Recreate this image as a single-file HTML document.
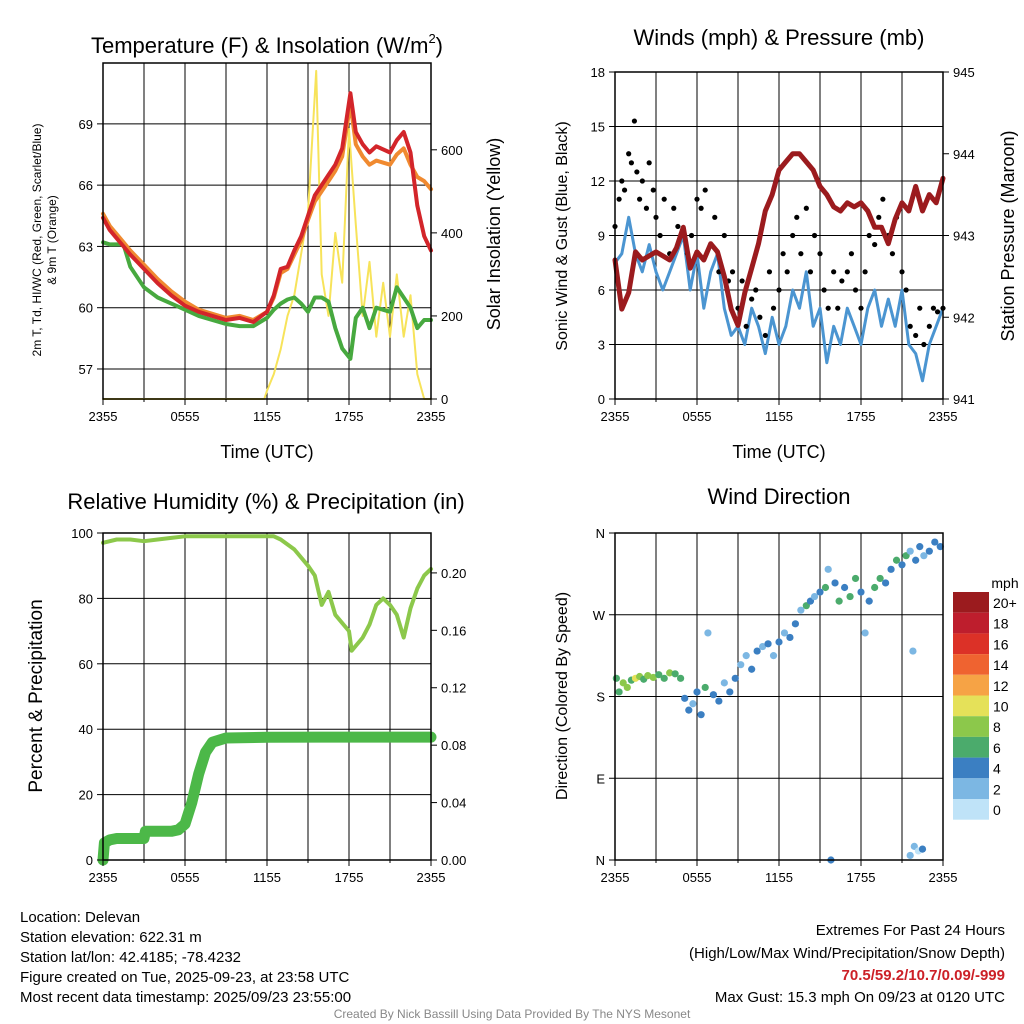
<!DOCTYPE html>
<html><head><meta charset="utf-8"><style>
html,body{margin:0;padding:0;background:#fff}
svg{display:block;font-family:"Liberation Sans",sans-serif}
</style></head><body>
<svg id="s" width="1024" height="1024" viewBox="0 0 1024 1024" xmlns="http://www.w3.org/2000/svg"></svg>
<script>
// ---- data ----
const xTickLabels=["2355","0555","1155","1755","2355"];
const tT=[0,0.5,1,1.5,2,3,4,5,6,7,8,9,10,11,12,12.5,13,13.5,14,14.5,15,15.5,16,16.5,17,17.5,18.1,18.5,19,19.5,20,21,21.5,22,22.5,23,23.5,24];
const temp2m=[64.4,63.8,63.4,63.0,62.6,61.9,61.2,60.6,60.1,59.8,59.6,59.4,59.5,59.3,59.8,60.6,61.9,62.0,62.8,63.5,64.5,65.5,66.0,66.5,67.0,67.8,70.5,68.6,68.0,67.6,67.9,67.6,68.2,68.6,67.6,65.0,63.5,62.8];
const temp9m=[64.6,64.0,63.6,63.2,62.8,62.1,61.4,60.8,60.3,59.9,59.7,59.5,59.6,59.4,59.8,60.5,61.7,61.9,62.6,63.3,64.3,65.2,65.7,66.2,66.7,67.4,70.0,68.0,67.4,67.0,67.2,67.0,67.5,67.8,67.0,66.4,66.2,65.8];
const dewpt=[63.2,63.1,63.1,63.1,62.0,61.0,60.5,60.2,59.9,59.6,59.4,59.2,59.1,59.1,59.5,59.9,60.2,60.4,60.5,60.2,59.8,60.5,60.5,60.3,59.0,58.0,57.5,59.5,60.0,59.0,60.0,59.8,61.0,60.5,60.0,59.0,59.4,59.4];
const tSol=[0,11.8,12,12.5,13,13.5,14,14.5,15,15.6,16,16.5,17,17.5,18,18.5,19,19.5,20,20.5,21,21.5,22,22.5,23,23.5,24];
const solar=[0,0,20,60,120,200,250,350,450,790,300,200,400,280,650,420,200,330,150,280,150,300,150,250,60,0,0];
const tW=[0,0.5,1,1.5,2,2.5,3,3.5,4,4.5,5,5.5,6,6.5,7,7.5,8,8.5,9,9.5,10,10.5,11,11.5,12,12.5,13,13.5,14,14.5,15,15.5,16,16.5,17,17.5,18,18.5,19,19.5,20,20.5,21,21.5,22,22.5,23,23.5,24];
const wind=[7.5,8,10,8,7,8.5,7,6,7,8,9,6,8,5,7,8,5,3.5,4,3,5,4,2.5,4.5,3,4,6,5,7,4,5,2,4,3,5,4,3,5,6,4,5.5,4,6,3,2.5,1,3,4,5];
const pres=[942.7,942.1,942.3,942.8,942.7,942.75,942.8,942.75,942.7,942.85,943.1,942.6,942.8,942.7,942.9,942.8,942.5,942.1,941.9,942.3,942.6,942.9,943.3,943.5,943.8,943.9,944.0,944.0,943.9,943.8,943.6,943.5,943.35,943.3,943.4,943.35,943.4,943.3,943.1,943.1,942.9,943.2,943.4,943.3,943.6,943.3,943.5,943.4,943.7];
const tG=[0,0.3,0.5,0.7,1,1.2,1.42,1.6,1.8,2,2.3,2.5,2.8,3,3.3,3.6,4,4.3,4.6,5,5.3,5.6,6,6.3,6.6,7,7.3,7.6,8,8.3,8.6,9,9.3,9.6,10,10.3,10.6,11,11.3,11.6,12,12.3,12.6,13,13.3,13.6,14,14.3,14.6,15,15.3,15.6,16,16.3,16.6,17,17.3,17.6,18,18.3,18.6,19,19.3,19.6,20,20.3,20.6,21,21.3,21.6,22,22.3,22.6,23,23.3,23.6,24];
const gust=[9.5,11,12,11.5,13.5,13,15.3,12.5,11,12,10.5,13,11.5,10,9,11,8,10.5,9.5,9,8,9,11,10.5,11.5,8.5,10,7,9,6.5,7,5,6.5,4,5.5,6,4.5,3.5,7,5,6,8,7,9,10,8,10.5,7,9,8,6,5,7,5,6.5,7,8,6,5,7,9,8.5,10,11,9,8,10,7,6,4,3.5,5,3,4,5,4.8,5];
const tRH=[0,1,2,3,4,5,6,8,10,12,12.5,13,14,15,15.5,16,16.5,17,18,18.2,19,19.5,20,20.5,21,21.5,22,22.5,23,23.5,24];
const rh=[97,98,98,97.5,98,98.5,99,99,99,99,99,98,95,90,87,78,82,75,70,64,68,72,78,80,78,75,68,77,83,87,89];
const tP=[0,0.1,0.5,1,2,3,3.1,4,5,5.5,6,6.5,7,7.5,8,9,12,16,20,24];
const precip=[0,0.012,0.014,0.015,0.015,0.015,0.02,0.02,0.02,0.021,0.025,0.04,0.06,0.075,0.082,0.085,0.0855,0.0856,0.0856,0.0856];
const tD=[0.1,0.3,0.6,0.9,1.2,1.5,1.8,2.1,2.4,2.8,3.2,3.6,4,4.4,4.8,5.1,5.4,5.7,6,6.3,6.6,6.8,7.2,7.6,8,8.4,8.8,9.2,9.6,10,10.4,10.8,11.2,11.6,12,12.4,12.8,13.2,13.6,14,14.3,14.6,15,15.4,15.6,15.8,16.1,16.4,16.8,17.2,17.6,18,18.3,18.6,19,19.4,19.8,20.2,20.6,21,21.3,21.6,21.8,22,22.3,22.6,23,23.4,23.8,21.6,21.9,22.2,22.5];
const dirs=[200,185,195,190,198,200,202,199,203,201,204,200,206,205,200,178,165,172,185,160,190,250,182,175,195,185,200,215,225,210,230,235,238,225,240,250,245,260,275,280,285,290,295,300,320,0,305,285,300,290,310,295,250,285,300,310,305,320,330,325,335,340,230,330,345,335,340,350,345,5,15,10,12];
const spd=[7,6,8,9,7,10,8,7,9,8,7,6,8,7,6,5,4,3,5,4,6,2,5,4,3,5,4,3,2,4,5,3,4,2,5,3,4,5,3,6,5,3,4,7,3,4,5,6,4,7,6,5,3,4,6,7,5,4,6,5,7,3,2,4,5,3,4,5,4,3,2,1,4];
const cbLabels=["20+","18","16","14","12","10","8","6","4","2","0"];
const cbColors=["#9b1b1e","#be1e2d","#dc3127","#ef6330","#f6a345","#e5e159","#8cc84b","#4bab6c","#3b7fc2","#7cb7e3","#bfe3f8"];

const S=document.getElementById('s');const NS="http://www.w3.org/2000/svg";
function mk(tag,attrs,parent,name,txt){const e=document.createElementNS(NS,tag);for(const k in attrs)e.setAttribute(k,attrs[k]);


if(txt!==undefined)e.textContent=txt;(parent||S).appendChild(e);return e;}
function txt(x,y,s,size,name,anchor,extra){const a=Object.assign({x:x,y:y,'font-size':size,'text-anchor':anchor||'middle',fill:'#000'},extra||{});return mk('text',a,S,name,s);}

function panel(P,name){
 const g=mk('g',{},S,name);
 P.xs=t=>P.x0+t/24*(P.x1-P.x0);
 P.ys=v=>P.y1-(v-P.lmin)/(P.lmax-P.lmin)*(P.y1-P.y0);
 P.yr=v=>P.y1-(v-P.rmin)/(P.rmax-P.rmin)*(P.y1-P.y0);
 for(let i=1;i<8;i++){const x=P.x0+i*(P.x1-P.x0)/8;mk('line',{x1:x,x2:x,y1:P.y0,y2:P.y1,stroke:'#000','stroke-width':1},g,'x-gridline');}
 P.lticks.forEach(v=>{const y=P.ys(v);if(y>P.y0+1&&y<P.y1-1)mk('line',{x1:P.x0,x2:P.x1,y1:y,y2:y,stroke:'#000','stroke-width':1},g,'y-gridline');});
 return g;
}
function frame(P,g){
 mk('rect',{x:P.x0,y:P.y0,width:P.x1-P.x0,height:P.y1-P.y0,fill:'none',stroke:'#000','stroke-width':1.5},g,'plot-frame');
 xTickLabels.forEach((l,i)=>{const x=P.x0+i*(P.x1-P.x0)/4;
  mk('line',{x1:x,x2:x,y1:P.y1,y2:P.y1+6,stroke:'#000'},g,'x-tick');
  txt(x,P.y1+22,l,13,'x-tick-label');});
 for(let i=1;i<8;i+=2){const x=P.x0+i*(P.x1-P.x0)/8;mk('line',{x1:x,x2:x,y1:P.y1,y2:P.y1+3,stroke:'#000'},g,'x-minor-tick');}
 P.lticks.forEach((v,i)=>{const y=P.ys(v);mk('line',{x1:P.x0-6,x2:P.x0,y1:y,y2:y,stroke:'#000'},g,'y-tick');
  txt(P.x0-10,y+5,P.llabels[i],13,'y-tick-label','end');});
 P.rticks.forEach((v,i)=>{const y=P.yr(v);mk('line',{x1:P.x1,x2:P.x1+6,y1:y,y2:y,stroke:'#000'},g,'y2-tick');
  txt(P.x1+10,y+5,P.rlabels[i],13,'y2-tick-label','start');});
}
function line(P,g,ts,vs,fn,color,w,name){let d='';ts.forEach((t,i)=>{d+=(i?'L':'M')+P.xs(t).toFixed(1)+','+fn(vs[i]).toFixed(1);});
 mk('path',{d:d,fill:'none',stroke:color,'stroke-width':w,'stroke-linejoin':'round','stroke-linecap':'round'},g,name);}

// Panel 1
const P1={x0:103,x1:431,y0:63,y1:399,lmin:55.53,lmax:71.98,rmin:0,rmax:809,lticks:[57,60,63,66,69],llabels:["57","60","63","66","69"],rticks:[0,200,400,600],rlabels:["0","200","400","600"]};
let g=panel(P1,'temperature-panel');
line(P1,g,tSol,solar,P1.yr,'#f7e35a',2,'solar-insolation-line');
line(P1,g,tT,dewpt,P1.ys,'#47a93f',4,'dewpoint-line');
line(P1,g,tT,temp9m,P1.ys,'#f08a30',4,'temp-9m-line');
line(P1,g,tT,temp2m,P1.ys,'#d3252a',4,'temp-2m-line');
frame(P1,g);
const tt=txt(267,53,'',22,'temperature-title');
tt.innerHTML='Temperature (F) &amp; Insolation (W/m<tspan font-size="13" dy="-10">2</tspan><tspan dy="10">)</tspan>';
txt(267,458,'Time (UTC)',18,'temperature-x-title');
mk('text',{x:0,y:0,'font-size':12,'text-anchor':'middle',transform:'translate(41,240) rotate(-90)'},S,'temperature-y-title','2m T, Td, HI/WC (Red, Green, Scarlet/Blue)');
mk('text',{x:0,y:0,'font-size':12,'text-anchor':'middle',transform:'translate(56,240) rotate(-90)'},S,'temperature-y-title-2','& 9m T (Orange)');
mk('text',{x:0,y:0,'font-size':18,'text-anchor':'middle',transform:'translate(500,234) rotate(-90)'},S,'solar-y-title','Solar Insolation (Yellow)');

// Panel 2
const P2={x0:615,x1:943,y0:72,y1:399,lmin:0,lmax:18,rmin:941,rmax:945,lticks:[0,3,6,9,12,15,18],llabels:["0","3","6","9","12","15","18"],rticks:[941,942,943,944,945],rlabels:["941","942","943","944","945"]};
g=panel(P2,'winds-panel');
line(P2,g,tW,wind,P2.ys,'#4b95d1',3,'sonic-wind-line');
tG.forEach((t,i)=>{mk('circle',{cx:P2.xs(t),cy:P2.ys(gust[i]),r:2.6,fill:'#000'},g,'gust-point');});
line(P2,g,tW,pres,P2.yr,'#9b1b1e',5,'pressure-line');
frame(P2,g);
txt(779,45,'Winds (mph) & Pressure (mb)',22,'winds-title');
txt(779,458,'Time (UTC)',18,'winds-x-title');
mk('text',{x:0,y:0,'font-size':16,'text-anchor':'middle',transform:'translate(567,236) rotate(-90)'},S,'winds-y-title','Sonic Wind & Gust (Blue, Black)');
mk('text',{x:0,y:0,'font-size':18,'text-anchor':'middle',transform:'translate(1014,236) rotate(-90)'},S,'pressure-y-title','Station Pressure (Maroon)');

// Panel 3
const P3={x0:103,x1:431,y0:533,y1:860,lmin:0,lmax:100,rmin:0,rmax:0.2278,lticks:[0,20,40,60,80,100],llabels:["0","20","40","60","80","100"],rticks:[0,0.04,0.08,0.12,0.16,0.2],rlabels:["0.00","0.04","0.08","0.12","0.16","0.20"]};
g=panel(P3,'humidity-panel');
line(P3,g,tRH,rh,P3.ys,'#8cc84b',4,'rh-line');
line(P3,g,tP,precip,P3.yr,'#4cb848',11,'precip-line');
frame(P3,g);
txt(266,509,'Relative Humidity (%) & Precipitation (in)',22,'humidity-title');
mk('text',{x:0,y:0,'font-size':19,'text-anchor':'middle',transform:'translate(42,696) rotate(-90)'},S,'humidity-y-title','Percent & Precipitation');

// Panel 4
const P4={x0:615,x1:943,y0:533,y1:860,lmin:0,lmax:360,rmin:0,rmax:1,lticks:[0,90,180,270,360],llabels:["N","E","S","W","N"],rticks:[],rlabels:[]};
g=panel(P4,'wind-direction-panel');
function spdColor(s){let i=Math.min(10,Math.floor(s/2));return cbColors[10-i];}
tD.forEach((t,i)=>{mk('circle',{cx:P4.xs(t),cy:P4.ys(dirs[i]),r:3.6,fill:spdColor(spd[i])},g,'direction-point');});
frame(P4,g);
txt(779,504,'Wind Direction',22,'direction-title');
mk('text',{x:0,y:0,'font-size':16,'text-anchor':'middle',transform:'translate(567,696) rotate(-90)'},S,'direction-y-title','Direction (Colored By Speed)');
const cb=mk('g',{},S,'speed-colorbar');
txt(1005,588,'mph',14,'colorbar-title');
cbColors.forEach((c,i)=>{const y=592+i*20.7;mk('rect',{x:953,y:y,width:36,height:20.7,fill:c},cb,'colorbar-swatch');
 txt(993,y+16,cbLabels[i],14,'colorbar-label','start');});

// Footer text
["Location: Delevan","Station elevation: 622.31 m","Station lat/lon: 42.4185; -78.4232","Figure created on Tue, 2025-09-23, at 23:58 UTC","Most recent data timestamp: 2025/09/23 23:55:00"].forEach((s,i)=>txt(20,922+i*20,s,15,'station-info-line','start'));
txt(1005,935,'Extremes For Past 24 Hours',15,'extremes-title','end');
txt(1005,958,'(High/Low/Max Wind/Precipitation/Snow Depth)',15,'extremes-subtitle','end');
txt(1005,980,'70.5/59.2/10.7/0.09/-999',15,'extremes-values','end',{fill:'#cc2027','font-weight':'bold'});
txt(1005,1002,'Max Gust: 15.3 mph On 09/23 at 0120 UTC',15,'max-gust-text','end');
txt(512,1018,'Created By Nick Bassill Using Data Provided By The NYS Mesonet',12,'credit-text','middle',{fill:'#888'});
</script>
</body></html>
